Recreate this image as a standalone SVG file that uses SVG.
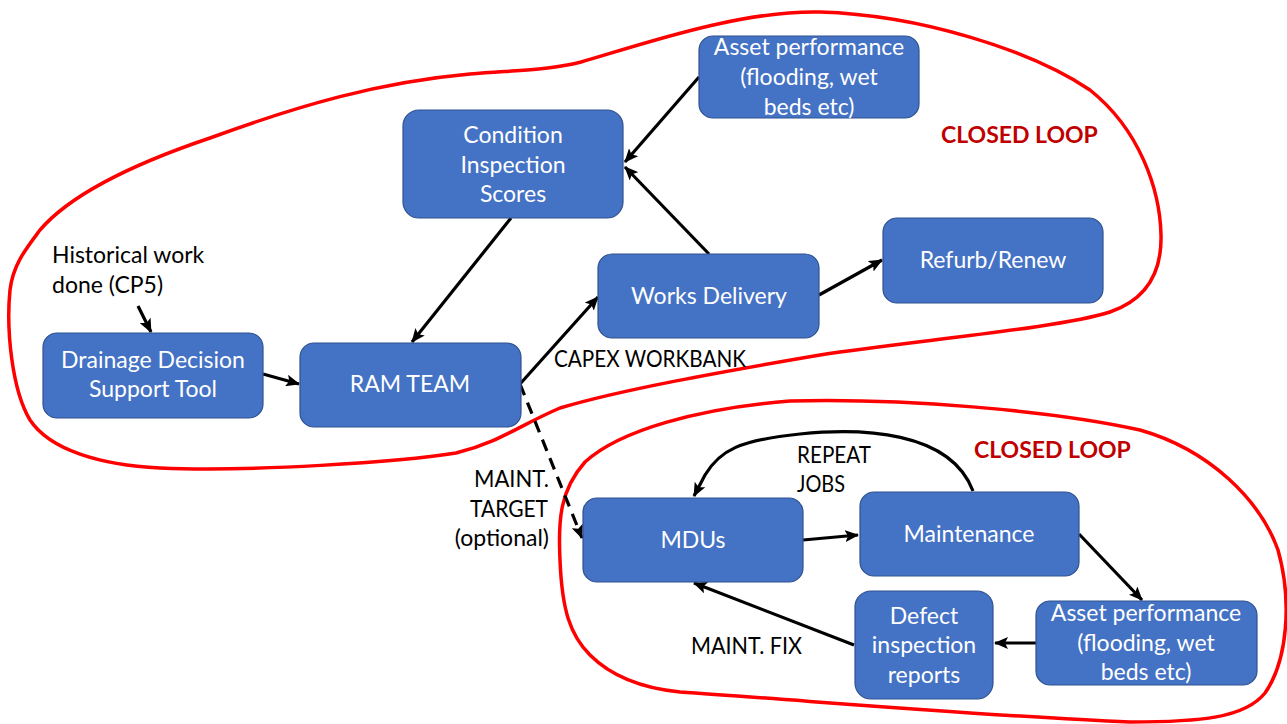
<svg xmlns="http://www.w3.org/2000/svg" width="1287" height="724" viewBox="0 0 1287 724">
  <style>
    .box { fill: #4472C4; stroke: #2F528F; stroke-width: 1.2; }
    .bt { font-family: Lato, "Liberation Sans", sans-serif; font-size: 23px; fill: #FFFFFF; text-anchor: middle; }
    .lbl { font-family: Lato, "Liberation Sans", sans-serif; font-size: 23px; fill: #000000; }
    .loop { fill: none; stroke: #FF0000; stroke-width: 3.5; stroke-linejoin: round; }
    .loopt { font-family: Lato, "Liberation Sans", sans-serif; font-size: 23px; font-weight: bold; fill: #C00000; }
    .edge { fill: none; stroke: #000000; stroke-width: 3.2; marker-end: url(#ah); }
    .dash { stroke-dasharray: 12 8; }
  </style>
  <defs>
    <marker id="ah" viewBox="0 0 14 12" refX="13" refY="6" markerWidth="14" markerHeight="12" markerUnits="userSpaceOnUse" orient="auto">
      <path d="M0,0 L14,6 L0,12 L3,6 Z" fill="#000000"/>
    </marker>
  </defs>

  <!-- boundaries of the two loops -->
  <g id="loops">
    <path class="loop" d="M 581 62 C 640 45, 740 10, 820 12 C 920 15, 1030 50, 1090 90 C 1140 130, 1160 190, 1161 235 C 1162 275, 1145 300, 1110 312 C 1060 328, 920 340, 820 355 C 720 372, 620 390, 560 408 C 520 425, 500 442, 456 453 C 400 462, 250 472, 160 468 C 100 465, 50 450, 30 420 C 12 390, 6 330, 10 290 C 13 265, 25 250, 40 230 C 70 195, 130 165, 210 138 C 300 105, 380 82, 470 74 C 520 70, 550 70, 581 62 Z"/>
    <path class="loop" d="M 560 560 C 558 520, 560 490, 585 462 C 620 430, 700 408, 790 401 C 900 398, 1050 410, 1140 430 C 1210 450, 1260 500, 1278 550 C 1292 600, 1288 660, 1265 693 C 1245 718, 1200 722, 1130 722 C 1000 717, 800 700, 680 692 C 640 688, 610 675, 590 655 C 570 635, 562 610, 560 560 Z"/>
    <text class="loopt" x="941" y="143">CLOSED LOOP</text>
    <text class="loopt" x="974" y="458">CLOSED LOOP</text>
  </g>

  <!-- connectors -->
  <g id="connectors">
    <path class="edge" d="M 699 77 L 625 162"/>
    <path class="edge" d="M 709 254 L 625 167"/>
    <path class="edge" d="M 511 218 L 412 342"/>
    <path class="edge" d="M 138 306 L 151 332"/>
    <path class="edge" d="M 263 374 L 299 384"/>
    <path class="edge" d="M 520 384 L 598 297"/>
    <path class="edge" d="M 819 295 L 882 260"/>
    <path class="edge dash" d="M 520 384 L 582 538"/>
    <path class="edge" d="M 973 491 C 950 430, 860 428, 800 434 C 740 440, 720 450, 705 475 L 694 496"/>
    <path class="edge" d="M 803 540 L 858 535"/>
    <path class="edge" d="M 1079 534 L 1142 600"/>
    <path class="edge" d="M 1036 643 L 995 643"/>
    <path class="edge" d="M 854 645 L 694 583"/>
    <text class="lbl" x="52" y="263">Historical work</text>
    <text class="lbl" x="52" y="293">done (CP5)</text>
    <text class="lbl" x="554" y="367" textLength="192" lengthAdjust="spacingAndGlyphs">CAPEX WORKBANK</text>
    <text class="lbl" x="474" y="487" textLength="75" lengthAdjust="spacingAndGlyphs">MAINT.</text>
    <text class="lbl" x="470" y="517" textLength="78" lengthAdjust="spacingAndGlyphs">TARGET</text>
    <text class="lbl" x="549" y="546" text-anchor="end">(optional)</text>
    <text class="lbl" x="797" y="463" textLength="74" lengthAdjust="spacingAndGlyphs">REPEAT</text>
    <text class="lbl" x="797" y="492" textLength="48" lengthAdjust="spacingAndGlyphs">JOBS</text>
    <text class="lbl" x="691" y="654" textLength="111" lengthAdjust="spacingAndGlyphs">MAINT. FIX</text>
  </g>

  <g id="asset-top">
    <rect class="box" x="699" y="36" width="220" height="82" rx="14"/>
    <text class="bt" x="809" y="55">Asset performance</text>
    <text class="bt" x="809" y="85">(flooding, wet</text>
    <text class="bt" x="809" y="115">beds etc)</text>
  </g>
  <g id="condition">
    <rect class="box" x="403" y="110" width="220" height="108" rx="16"/>
    <text class="bt" x="513" y="143">Condition</text>
    <text class="bt" x="513" y="173">Inspection</text>
    <text class="bt" x="513" y="202">Scores</text>
  </g>
  <g id="works-delivery">
    <rect class="box" x="598" y="254" width="221" height="84" rx="14"/>
    <text class="bt" x="709" y="304">Works Delivery</text>
  </g>
  <g id="refurb">
    <rect class="box" x="883" y="218" width="220" height="85" rx="14"/>
    <text class="bt" x="993" y="268">Refurb/Renew</text>
  </g>
  <g id="drainage">
    <rect class="box" x="43" y="333" width="220" height="85" rx="14"/>
    <text class="bt" x="153" y="368">Drainage Decision</text>
    <text class="bt" x="153" y="397">Support Tool</text>
  </g>
  <g id="ram-team">
    <rect class="box" x="300" y="343" width="221" height="84" rx="14"/>
    <text class="bt" x="410" y="392">RAM TEAM</text>
  </g>
  <g id="mdus">
    <rect class="box" x="583" y="498" width="220" height="84" rx="14"/>
    <text class="bt" x="693" y="548">MDUs</text>
  </g>
  <g id="maintenance">
    <rect class="box" x="860" y="492" width="219" height="84" rx="14"/>
    <text class="bt" x="969" y="542">Maintenance</text>
  </g>
  <g id="defect">
    <rect class="box" x="855" y="591" width="138" height="108" rx="16"/>
    <text class="bt" x="924" y="624">Defect</text>
    <text class="bt" x="924" y="653">inspection</text>
    <text class="bt" x="924" y="683">reports</text>
  </g>
  <g id="asset-bottom">
    <rect class="box" x="1036" y="601" width="221" height="84" rx="14"/>
    <text class="bt" x="1146" y="621">Asset performance</text>
    <text class="bt" x="1146" y="651">(flooding, wet</text>
    <text class="bt" x="1146" y="680">beds etc)</text>
  </g>
</svg>
